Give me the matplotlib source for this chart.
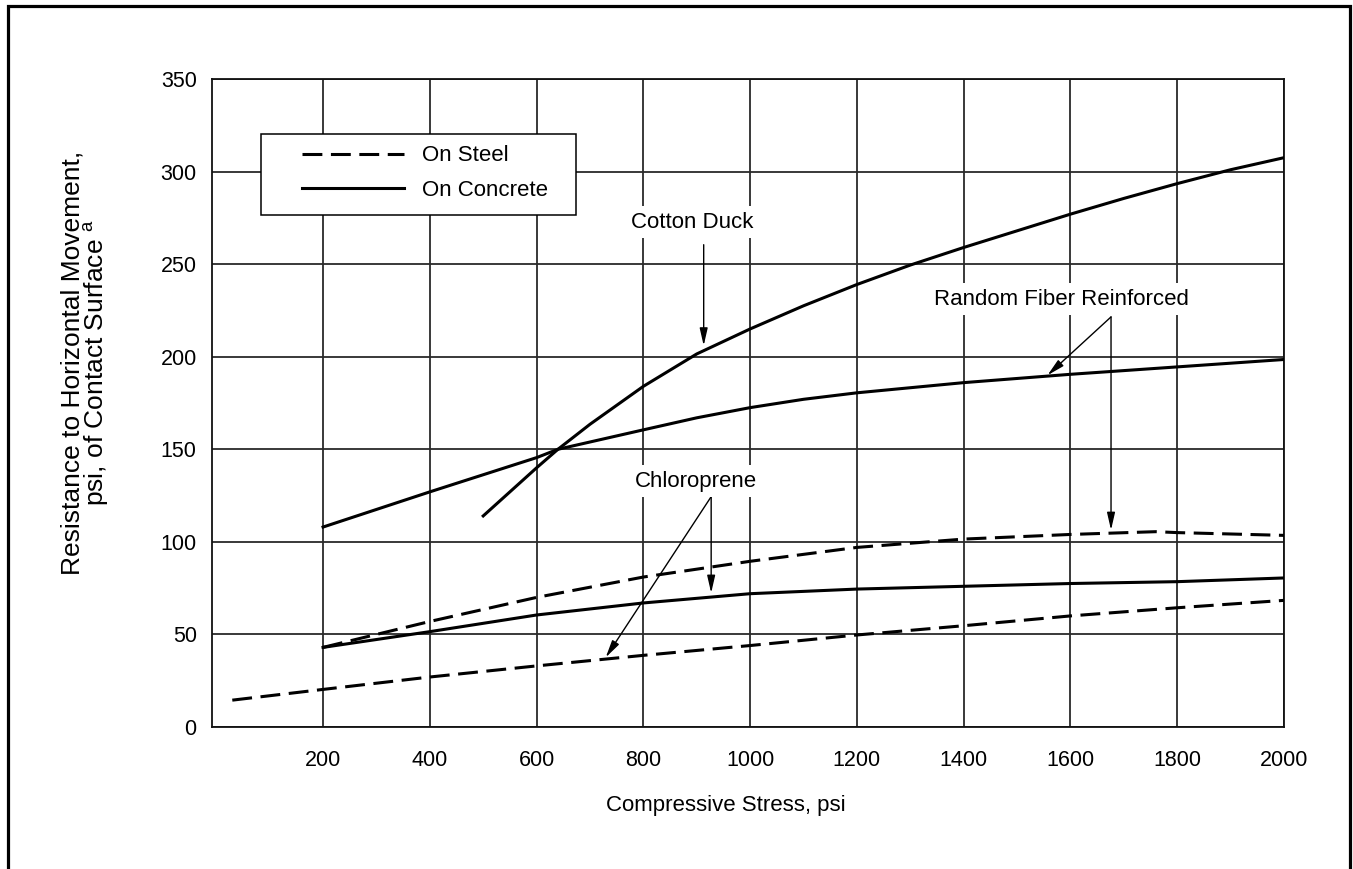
import numpy as np
import matplotlib
matplotlib.use("Agg")
import matplotlib.pyplot as plt
from matplotlib.lines import Line2D
from matplotlib.patches import Rectangle

plt.rcParams['font.family'] = ['Liberation Sans', 'DejaVu Sans']

# values (psi)
cotton_x = [500, 600, 640, 700, 800, 900, 1000, 1100, 1200, 1300, 1400, 1500, 1600, 1700, 1800, 1900, 2000]
cotton_y = [114, 140, 150, 163.5, 184, 201.5, 215, 227.5, 239, 249.5, 259, 268, 277, 285.5, 293.5, 301, 307.5]

fiber_conc_x = [200, 400, 600, 640, 800, 900, 1000, 1100, 1200, 1400, 1600, 1800, 2000]
fiber_conc_y = [108, 127, 145.5, 150, 160.5, 167, 172.5, 177, 180.5, 186, 190.5, 194.5, 198.5]

fiber_steel_x = [200, 400, 600, 800, 1000, 1200, 1400, 1600, 1760, 1800, 2000]
fiber_steel_y = [43, 57, 70, 81, 89.5, 97, 101.5, 104, 105.5, 105, 103.5]

chloro_conc_x = [200, 400, 600, 800, 1000, 1200, 1400, 1600, 1800, 2000]
chloro_conc_y = [43, 51.5, 60.5, 67, 72, 74.5, 76, 77.5, 78.5, 80.5]

chloro_steel_x = [30, 200, 400, 600, 800, 1000, 1200, 1400, 1600, 1800, 2000]
chloro_steel_y = [14.5, 20.3, 27, 33, 38.7, 44, 49.7, 54.7, 60, 64.4, 68.4]

x_ticks = [200, 400, 600, 800, 1000, 1200, 1400, 1600, 1800, 2000]
y_ticks = [0, 50, 100, 150, 200, 250, 300, 350]

W, H = 1353, 869
fig = plt.figure(figsize=(W / 100, H / 100), dpi=100)
ax = fig.add_axes([212 / W, 1 - 727 / H, 1072 / W, 648 / H])

LW = 2.2
DASH = (6.5, 2.8)

ax.plot(cotton_x, cotton_y, color='black', lw=LW, zorder=3)
ax.plot(fiber_conc_x, fiber_conc_y, color='black', lw=LW, zorder=3, label='On Concrete')
ax.plot(chloro_conc_x, chloro_conc_y, color='black', lw=LW, zorder=3)
ax.plot(fiber_steel_x, fiber_steel_y, color='black', lw=LW, dashes=DASH, zorder=3, label='On Steel')
ax.plot(chloro_steel_x, chloro_steel_y, color='black', lw=LW, dashes=DASH, zorder=3)

ax.set_xlim(-8, 2000)
ax.set_ylim(0, 350)
ax.set_xticks(x_ticks)
ax.set_yticks(y_ticks)
ax.tick_params(axis='both', length=0, labelsize=15.5)
ax.tick_params(axis='x', pad=16.5)
ax.tick_params(axis='y', pad=11)
ax.grid(True, color='#2a2a2a', lw=1.3)
ax.set_axisbelow(True)
for s in ax.spines.values():
    s.set_linewidth(1.3)
    s.set_color('#111111')

# legend box
ax.add_patch(Rectangle((0.0457, 0.790), 0.294, 0.125, transform=ax.transAxes,
                       facecolor='white', edgecolor='black', lw=1.1, zorder=5))
h, l = ax.get_legend_handles_labels()
leg = ax.legend([h[1], h[0]], [l[1], l[0]], loc='center left',
                bbox_to_anchor=(0.084, 0.855), frameon=False, fontsize=16,
                handlelength=4.6, handletextpad=0.8, labelspacing=0.6,
                borderpad=0, borderaxespad=0)
leg.set_zorder(6)

# labels and arrows
box = dict(boxstyle='square,pad=0.25', facecolor='white', edgecolor='none')
ax.text(891, 272.7, 'Cotton Duck', fontsize=16, ha='center', va='center', bbox=box, zorder=4)
ax.text(1583, 231, 'Random Fiber Reinforced', fontsize=16, ha='center', va='center', bbox=box, zorder=4)
ax.text(899, 132.8, 'Chloroprene', fontsize=16, ha='center', va='center', bbox=box, zorder=4)

arrow = dict(arrowstyle='-|>,head_length=1.05,head_width=0.24', color='black', lw=1.0,
             shrinkA=0, shrinkB=0, mutation_scale=10)
ax.annotate('', xy=(913, 206), xytext=(913, 260.5), arrowprops=arrow)
ax.annotate('', xy=(1557, 190), xytext=(1676, 221.5), arrowprops=arrow)
ax.annotate('', xy=(1676, 106.4), xytext=(1676, 221.5), arrowprops=arrow)
ax.annotate('', xy=(927, 72.4), xytext=(927, 124.4), arrowprops=arrow)
ax.annotate('', xy=(729.5, 37.6), xytext=(927, 124.4), arrowprops=arrow)

fig.text(726 / W, 1 - 806 / H, 'Compressive Stress, psi', fontsize=16, ha='center', va='center')
fig.text(86 / W, 1 - 363 / H,
         'Resistance to Horizontal Movement,\npsi, of Contact Surface $^\\mathregular{a}$',
         fontsize=19, rotation=90, ha='center', va='center', multialignment='center',
         linespacing=0.88)

# page frame (open at the bottom)
fig.add_artist(Line2D([8 / W, 8 / W, 1350 / W, 1350 / W], [0, 1 - 6 / H, 1 - 6 / H, 0],
                      transform=fig.transFigure, color='black', lw=2.3,
                      solid_joinstyle='miter'))

fig.savefig('out.png', dpi=100)
